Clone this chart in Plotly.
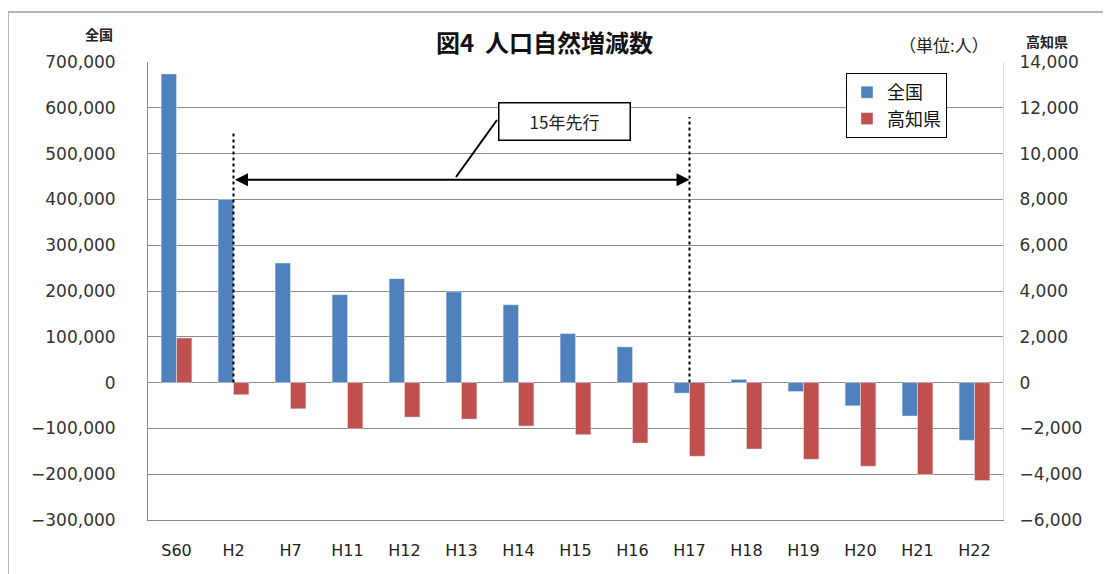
import plotly.graph_objects as go

categories = ["S60", "H2", "H7", "H11", "H12", "H13", "H14", "H15", "H16",
              "H17", "H18", "H19", "H20", "H21", "H22"]
zenkoku = [674000, 400000, 261000, 192000, 227000, 198000, 170000, 107000, 78000,
           -23000, 7000, -19500, -50700, -73000, -126000]
kochi = [1950, -530, -1145, -2015, -1507, -1594, -1899, -2275, -2640,
         -3217, -2899, -3348, -3652, -4014, -4275]

left_ticks = list(range(-300000, 700001, 100000))
right_ticks = list(range(-6000, 14001, 2000))

FONT = "Noto Sans CJK JP"
NUMFONT = "DejaVu Sans"
OFF = 8  # page body margin
W, H = 1111 - OFF, 574 - OFF
L, R, T, B = 148, 1003, 62, 520  # plot area in screen pixels

def px(x):
    return (x - L) / (R - L)

def py(y):
    return (B - y) / (B - T)

fig = go.Figure()
fig.add_trace(go.Bar(x=categories, y=zenkoku, name="全国", marker_color="#4F81BD",
                     width=0.27, offset=-0.27, yaxis="y"))
fig.add_trace(go.Bar(x=categories, y=kochi, name="高知県", marker_color="#C0504D",
                     width=0.27, offset=0.0, yaxis="y2"))

i_h2 = categories.index("H2")
i_h17 = categories.index("H17")

shapes = [
    dict(type="rect", xref="paper", yref="paper", x0=px(8), x1=px(1109), y0=py(12), y1=py(600),
         line=dict(color="#A0A0A0", width=1.5), layer="below"),
    dict(type="line", xref="x", yref="y", x0=i_h2, x1=i_h2, y0=0, y1=550000,
         line=dict(color="black", width=2, dash="dot")),
    dict(type="line", xref="x", yref="y", x0=i_h17, x1=i_h17, y0=0, y1=580000,
         line=dict(color="black", width=2, dash="dot")),
    dict(type="line", xref="paper", yref="paper", x0=px(497), y0=py(120), x1=px(456), y1=py(177),
         line=dict(color="black", width=2)),
]

def label(text, x, y, size, color="#222"):
    return dict(text=text, xref="paper", yref="paper", x=px(x), y=py(y),
                xanchor="center", yanchor="middle", showarrow=False,
                font=dict(family=FONT, size=size, color=color))

annotations = [
    label("<b>図4\u00a0\u00a0人口自然増減数</b>", 544, 42, 24, "#111"),
    label("（単位:人）", 944, 44, 17),
    label("<b>全国</b>", 99, 34, 14),
    label("<b>高知県</b>", 1047, 41, 14),
    dict(x=i_h17, y=443000, ax=i_h2, ay=443000, xref="x", yref="y", axref="x", ayref="y",
         text="", showarrow=True, arrowhead=2, arrowside="end+start", arrowsize=1.3,
         arrowwidth=2, arrowcolor="black", standoff=0, startstandoff=0),
    dict(text="15年先行", xref="paper", yref="paper", x=px(564), y=py(122),
         xanchor="center", yanchor="middle", showarrow=False,
         width=128, height=34, bordercolor="black", borderwidth=1.5, bgcolor="white",
         font=dict(family=FONT, size=17, color="#222")),
]

fig.update_layout(
    width=W, height=H,
    margin=dict(l=L - OFF, r=1111 - R, t=T - OFF, b=574 - B, pad=0),
    paper_bgcolor="white", plot_bgcolor="white",
    font=dict(family=FONT, size=13, color="#333"),
    barmode="overlay",
    showlegend=True,
    legend=dict(x=px(947), y=py(73), xanchor="right", yanchor="top",
                bordercolor="black", borderwidth=1, bgcolor="white",
                font=dict(family=FONT, size=18, color="#111"),
                tracegroupgap=0, itemwidth=30),
    xaxis=dict(type="category", showgrid=False, showline=True, linecolor="#888", linewidth=1,
               ticks="outside", ticklen=16, tickcolor="rgba(0,0,0,0)",
               tickfont=dict(family=NUMFONT, size=16, color="#222")),
    yaxis=dict(range=[-300000, 700000], tickvals=left_ticks, tickformat=",d",
               showgrid=True, gridcolor="#8C8C8C", gridwidth=1,
               zeroline=True, zerolinecolor="#8C8C8C", zerolinewidth=1,
               showline=True, linecolor="#888", linewidth=1,
               ticks="outside", ticklen=28, tickcolor="rgba(0,0,0,0)",
               tickfont=dict(family=NUMFONT, size=17, color="#333")),
    yaxis2=dict(range=[-6000, 14000], tickvals=right_ticks, tickformat=",d",
                overlaying="y", side="right", showgrid=False, zeroline=False,
                showline=True, linecolor="#DDDDDD", linewidth=1,
                ticks="outside", ticklen=12, tickcolor="rgba(0,0,0,0)",
                tickfont=dict(family=NUMFONT, size=17, color="#333")),
    shapes=shapes,
    annotations=annotations,
)

fig.write_html("out.html")
